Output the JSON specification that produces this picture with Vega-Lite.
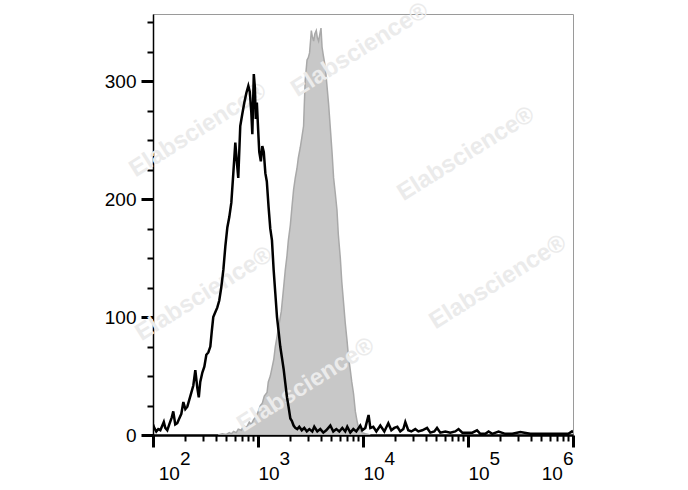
{
  "$schema": "https://vega.github.io/schema/vega-lite/v6.json",
  "width": 420,
  "height": 421,
  "autosize": {"type": "none"},
  "padding": {"left": 153, "top": 14, "right": 115, "bottom": 55},
  "background": "white",
  "config": {
    "view": {"stroke": "#9a9a9a", "strokeWidth": 1},
    "axis": {"grid": false, "title": null}
  },
  "datasets": {
    "stained": [
      {"log10_value": 2.622, "count": 0},
      {"log10_value": 2.66, "count": 1},
      {"log10_value": 2.698, "count": 0.5},
      {"log10_value": 2.727, "count": 2},
      {"log10_value": 2.746, "count": 1},
      {"log10_value": 2.768, "count": 3},
      {"log10_value": 2.793, "count": 2},
      {"log10_value": 2.812, "count": 5},
      {"log10_value": 2.841, "count": 4},
      {"log10_value": 2.863, "count": 8},
      {"log10_value": 2.889, "count": 6},
      {"log10_value": 2.917, "count": 11},
      {"log10_value": 2.936, "count": 9},
      {"log10_value": 2.958, "count": 13},
      {"log10_value": 2.984, "count": 16},
      {"log10_value": 3.003, "count": 20},
      {"log10_value": 3.022, "count": 25},
      {"log10_value": 3.041, "count": 27},
      {"log10_value": 3.06, "count": 33},
      {"log10_value": 3.086, "count": 36},
      {"log10_value": 3.098, "count": 45},
      {"log10_value": 3.117, "count": 50},
      {"log10_value": 3.136, "count": 58},
      {"log10_value": 3.15, "count": 64},
      {"log10_value": 3.165, "count": 75},
      {"log10_value": 3.184, "count": 85},
      {"log10_value": 3.203, "count": 95},
      {"log10_value": 3.222, "count": 105},
      {"log10_value": 3.244, "count": 125},
      {"log10_value": 3.26, "count": 140},
      {"log10_value": 3.276, "count": 152},
      {"log10_value": 3.289, "count": 165},
      {"log10_value": 3.308, "count": 178},
      {"log10_value": 3.322, "count": 192},
      {"log10_value": 3.339, "count": 208},
      {"log10_value": 3.355, "count": 218},
      {"log10_value": 3.371, "count": 226},
      {"log10_value": 3.384, "count": 235},
      {"log10_value": 3.403, "count": 244},
      {"log10_value": 3.417, "count": 252},
      {"log10_value": 3.434, "count": 262},
      {"log10_value": 3.441, "count": 280},
      {"log10_value": 3.45, "count": 301},
      {"log10_value": 3.467, "count": 318},
      {"log10_value": 3.479, "count": 320},
      {"log10_value": 3.491, "count": 324},
      {"log10_value": 3.501, "count": 335},
      {"log10_value": 3.508, "count": 343},
      {"log10_value": 3.517, "count": 338},
      {"log10_value": 3.53, "count": 334},
      {"log10_value": 3.541, "count": 340},
      {"log10_value": 3.555, "count": 343},
      {"log10_value": 3.565, "count": 337},
      {"log10_value": 3.577, "count": 334},
      {"log10_value": 3.589, "count": 340},
      {"log10_value": 3.6, "count": 345},
      {"log10_value": 3.61, "count": 329},
      {"log10_value": 3.622, "count": 322},
      {"log10_value": 3.641, "count": 312},
      {"log10_value": 3.655, "count": 298},
      {"log10_value": 3.672, "count": 281},
      {"log10_value": 3.689, "count": 260},
      {"log10_value": 3.705, "count": 240},
      {"log10_value": 3.72, "count": 218},
      {"log10_value": 3.736, "count": 205},
      {"log10_value": 3.752, "count": 191},
      {"log10_value": 3.765, "count": 170},
      {"log10_value": 3.784, "count": 150},
      {"log10_value": 3.798, "count": 130},
      {"log10_value": 3.815, "count": 112},
      {"log10_value": 3.831, "count": 95},
      {"log10_value": 3.848, "count": 80},
      {"log10_value": 3.86, "count": 68},
      {"log10_value": 3.879, "count": 55},
      {"log10_value": 3.893, "count": 45},
      {"log10_value": 3.91, "count": 35},
      {"log10_value": 3.927, "count": 20},
      {"log10_value": 3.943, "count": 12},
      {"log10_value": 3.955, "count": 7},
      {"log10_value": 3.974, "count": 4},
      {"log10_value": 3.993, "count": 2},
      {"log10_value": 4.022, "count": 1},
      {"log10_value": 4.07, "count": 0}
    ],
    "control": [
      {"log10_value": 2.0, "count": 9},
      {"log10_value": 2.012, "count": 6},
      {"log10_value": 2.031, "count": 3},
      {"log10_value": 2.05, "count": 5},
      {"log10_value": 2.07, "count": 4},
      {"log10_value": 2.089, "count": 8},
      {"log10_value": 2.103, "count": 11},
      {"log10_value": 2.117, "count": 6},
      {"log10_value": 2.136, "count": 4},
      {"log10_value": 2.155, "count": 9},
      {"log10_value": 2.179, "count": 15},
      {"log10_value": 2.193, "count": 20},
      {"log10_value": 2.212, "count": 9},
      {"log10_value": 2.231, "count": 10},
      {"log10_value": 2.25, "count": 14},
      {"log10_value": 2.27, "count": 18},
      {"log10_value": 2.289, "count": 28},
      {"log10_value": 2.308, "count": 22},
      {"log10_value": 2.327, "count": 24},
      {"log10_value": 2.346, "count": 30},
      {"log10_value": 2.365, "count": 36},
      {"log10_value": 2.384, "count": 42},
      {"log10_value": 2.403, "count": 55},
      {"log10_value": 2.422, "count": 40},
      {"log10_value": 2.436, "count": 32},
      {"log10_value": 2.45, "count": 45},
      {"log10_value": 2.47, "count": 53},
      {"log10_value": 2.489, "count": 58},
      {"log10_value": 2.508, "count": 68},
      {"log10_value": 2.527, "count": 70},
      {"log10_value": 2.546, "count": 75},
      {"log10_value": 2.56, "count": 88},
      {"log10_value": 2.574, "count": 100},
      {"log10_value": 2.593, "count": 104},
      {"log10_value": 2.612, "count": 108},
      {"log10_value": 2.631, "count": 114},
      {"log10_value": 2.65, "count": 125},
      {"log10_value": 2.67, "count": 140},
      {"log10_value": 2.689, "count": 160},
      {"log10_value": 2.708, "count": 176},
      {"log10_value": 2.727, "count": 185},
      {"log10_value": 2.746, "count": 197},
      {"log10_value": 2.765, "count": 222},
      {"log10_value": 2.784, "count": 248},
      {"log10_value": 2.798, "count": 232},
      {"log10_value": 2.812, "count": 218},
      {"log10_value": 2.831, "count": 262},
      {"log10_value": 2.85, "count": 272},
      {"log10_value": 2.87, "count": 282},
      {"log10_value": 2.889, "count": 290},
      {"log10_value": 2.908, "count": 296},
      {"log10_value": 2.922, "count": 291},
      {"log10_value": 2.936, "count": 274},
      {"log10_value": 2.946, "count": 255},
      {"log10_value": 2.96, "count": 306},
      {"log10_value": 2.97, "count": 295},
      {"log10_value": 2.979, "count": 268},
      {"log10_value": 2.989, "count": 282},
      {"log10_value": 3.003, "count": 256},
      {"log10_value": 3.012, "count": 240},
      {"log10_value": 3.027, "count": 232},
      {"log10_value": 3.041, "count": 245},
      {"log10_value": 3.055, "count": 240},
      {"log10_value": 3.07, "count": 222},
      {"log10_value": 3.084, "count": 215},
      {"log10_value": 3.101, "count": 193},
      {"log10_value": 3.117, "count": 175},
      {"log10_value": 3.133, "count": 165},
      {"log10_value": 3.149, "count": 140},
      {"log10_value": 3.165, "count": 120},
      {"log10_value": 3.181, "count": 100},
      {"log10_value": 3.196, "count": 88},
      {"log10_value": 3.212, "count": 75},
      {"log10_value": 3.229, "count": 65},
      {"log10_value": 3.244, "count": 56},
      {"log10_value": 3.26, "count": 44},
      {"log10_value": 3.276, "count": 32},
      {"log10_value": 3.291, "count": 24},
      {"log10_value": 3.308, "count": 14},
      {"log10_value": 3.322, "count": 12},
      {"log10_value": 3.339, "count": 8},
      {"log10_value": 3.355, "count": 6},
      {"log10_value": 3.374, "count": 5},
      {"log10_value": 3.393, "count": 7},
      {"log10_value": 3.417, "count": 4},
      {"log10_value": 3.441, "count": 6},
      {"log10_value": 3.465, "count": 3},
      {"log10_value": 3.489, "count": 5},
      {"log10_value": 3.517, "count": 3},
      {"log10_value": 3.536, "count": 7},
      {"log10_value": 3.565, "count": 3},
      {"log10_value": 3.593, "count": 5},
      {"log10_value": 3.622, "count": 2},
      {"log10_value": 3.65, "count": 4},
      {"log10_value": 3.689, "count": 8},
      {"log10_value": 3.717, "count": 3},
      {"log10_value": 3.746, "count": 5},
      {"log10_value": 3.774, "count": 3},
      {"log10_value": 3.803, "count": 6},
      {"log10_value": 3.831, "count": 3},
      {"log10_value": 3.85, "count": 7},
      {"log10_value": 3.879, "count": 2},
      {"log10_value": 3.908, "count": 5},
      {"log10_value": 3.936, "count": 3},
      {"log10_value": 3.974, "count": 8},
      {"log10_value": 3.993, "count": 4},
      {"log10_value": 4.022, "count": 6},
      {"log10_value": 4.053, "count": 17},
      {"log10_value": 4.07, "count": 6},
      {"log10_value": 4.098, "count": 7},
      {"log10_value": 4.127, "count": 3},
      {"log10_value": 4.165, "count": 8},
      {"log10_value": 4.203, "count": 3},
      {"log10_value": 4.241, "count": 10},
      {"log10_value": 4.27, "count": 4},
      {"log10_value": 4.298, "count": 6},
      {"log10_value": 4.327, "count": 7},
      {"log10_value": 4.355, "count": 3},
      {"log10_value": 4.384, "count": 5},
      {"log10_value": 4.403, "count": 11},
      {"log10_value": 4.431, "count": 4},
      {"log10_value": 4.46, "count": 3},
      {"log10_value": 4.498, "count": 5},
      {"log10_value": 4.527, "count": 3},
      {"log10_value": 4.565, "count": 4},
      {"log10_value": 4.61, "count": 6},
      {"log10_value": 4.641, "count": 2},
      {"log10_value": 4.679, "count": 3},
      {"log10_value": 4.705, "count": 6},
      {"log10_value": 4.736, "count": 2},
      {"log10_value": 4.784, "count": 3},
      {"log10_value": 4.831, "count": 2},
      {"log10_value": 4.879, "count": 3},
      {"log10_value": 4.91, "count": 5},
      {"log10_value": 4.946, "count": 2},
      {"log10_value": 5.003, "count": 2},
      {"log10_value": 5.041, "count": 2},
      {"log10_value": 5.086, "count": 4},
      {"log10_value": 5.117, "count": 1},
      {"log10_value": 5.165, "count": 1},
      {"log10_value": 5.196, "count": 3},
      {"log10_value": 5.231, "count": 1},
      {"log10_value": 5.291, "count": 3},
      {"log10_value": 5.355, "count": 1},
      {"log10_value": 5.422, "count": 1},
      {"log10_value": 5.498, "count": 2.5},
      {"log10_value": 5.593, "count": 1},
      {"log10_value": 5.689, "count": 1},
      {"log10_value": 5.784, "count": 1},
      {"log10_value": 5.879, "count": 1},
      {"log10_value": 5.955, "count": 1},
      {"log10_value": 5.99, "count": 3},
      {"log10_value": 6.0, "count": 2}
    ],
    "watermarks": [
      {"log10_value": 3.971, "count": 326.5, "label": "Elabscience®"},
      {"log10_value": 2.429, "count": 258.6, "label": "Elabscience®"},
      {"log10_value": 4.981, "count": 238.3, "label": "Elabscience®"},
      {"log10_value": 5.286, "count": 129.7, "label": "Elabscience®"},
      {"log10_value": 2.486, "count": 119.6, "label": "Elabscience®"},
      {"log10_value": 3.457, "count": 42.4, "label": "Elabscience®"}
    ]
  },
  "encoding": {
    "x": {
      "field": "log10_value",
      "type": "quantitative",
      "scale": {"domain": [2, 6], "nice": false, "zero": false},
      "axis": {
        "orient": "bottom",
        "values": [2, 2.301, 2.477, 2.602, 2.699, 2.778, 2.845, 2.903, 2.954,
                   3, 3.301, 3.477, 3.602, 3.699, 3.778, 3.845, 3.903, 3.954,
                   4, 4.301, 4.477, 4.602, 4.699, 4.778, 4.845, 4.903, 4.954,
                   5, 5.301, 5.477, 5.602, 5.699, 5.778, 5.845, 5.903, 5.954, 6],
        "domainColor": "#000000",
        "domainWidth": 2.5,
        "tickColor": "#000000",
        "tickSize": {"condition": {"test": "datum.value % 1 === 0", "value": 12}, "value": 6},
        "tickWidth": {"condition": {"test": "datum.value % 1 === 0", "value": 3}, "value": 2},
        "labelExpr": "datum.value === 6 ? ['6', '10\u00a0\u00a0\u200b'] : (datum.value === 2 ? ['\u200b\u00a0\u00a0\u00a0\u00a0\u00a0' + datum.value, '\u200b\u00a010'] : (datum.value % 1 === 0 ? ['\u200b\u00a0\u00a0\u00a0\u00a0' + datum.value, '10'] : ''))",
        "labelAlign": {"condition": {"test": "datum.value === 6", "value": "right"}, "value": "left"},
        "labelFont": "Liberation Sans",
        "labelFontSize": 19,
        "labelColor": "#000000",
        "labelPadding": 2,
        "labelLineHeight": 15,
        "labelOverlap": false,
        "labelFlush": false,
        "title": null
      }
    },
    "y": {
      "field": "count",
      "type": "quantitative",
      "scale": {"domain": [0, 357], "nice": false},
      "axis": {
        "values": [0, 25, 50, 75, 100, 125, 150, 175, 200, 225, 250, 275, 300, 325, 350],
        "domainColor": "#000000",
        "domainWidth": 1.5,
        "tickColor": "#000000",
        "tickSize": {"condition": {"test": "datum.value % 100 === 0", "value": 12}, "value": 6},
        "tickWidth": {"condition": {"test": "datum.value % 100 === 0", "value": 3}, "value": 2},
        "labelExpr": "datum.value % 100 === 0 ? datum.label : ''",
        "labelFont": "Liberation Sans",
        "labelFontSize": 19,
        "labelColor": "#000000",
        "labelPadding": 5,
        "labelOverlap": false,
        "title": null
      }
    }
  },
  "layer": [
    {
      "data": {"name": "stained"},
      "mark": {"type": "area", "color": "#c8c8c8", "stroke": "#a9a9a9", "strokeWidth": 1.5, "clip": true}
    },
    {
      "data": {"name": "watermarks"},
      "mark": {"type": "text", "font": "Liberation Sans", "fontWeight": "bold", "fontSize": 24, "angle": 328, "color": "#ebebeb", "align": "center", "baseline": "middle"},
      "encoding": {"text": {"field": "label"}}
    },
    {
      "data": {"name": "control"},
      "mark": {"type": "line", "color": "#000000", "strokeWidth": 2.5, "clip": true}
    }
  ]
}
